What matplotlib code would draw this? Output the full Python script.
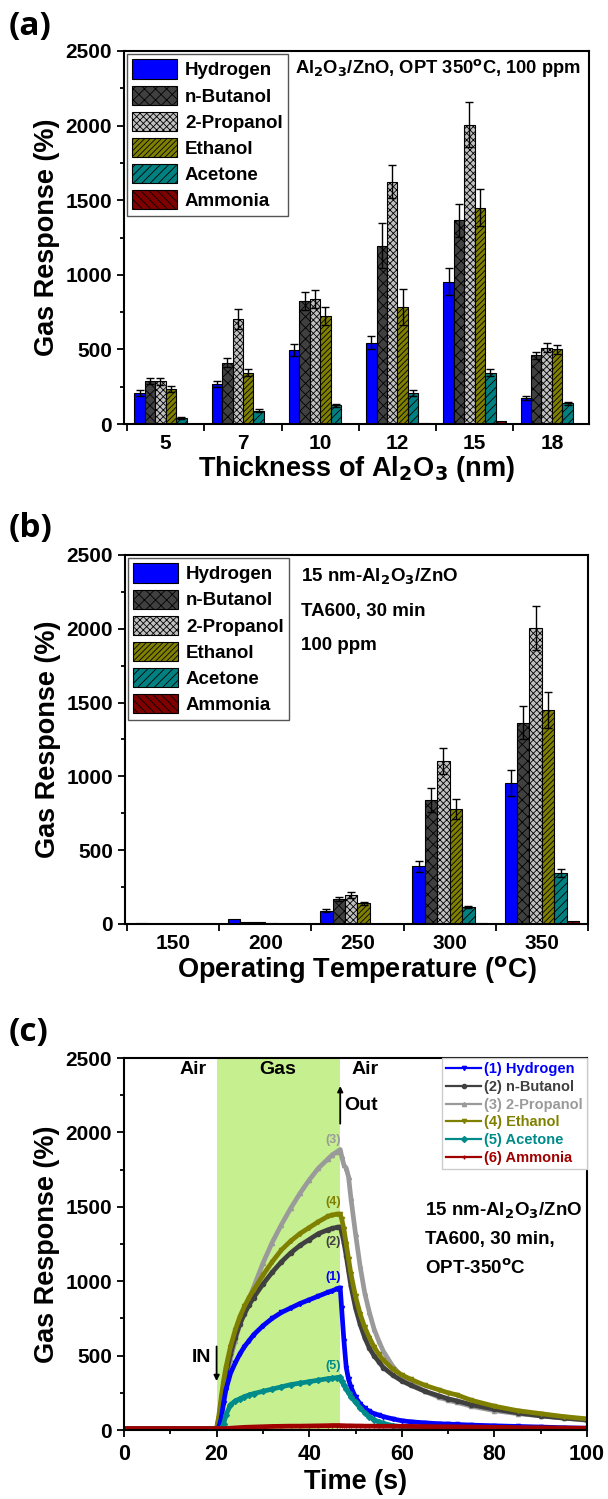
import numpy as np
import matplotlib.pyplot as plt
from matplotlib.ticker import MultipleLocator, FixedLocator
from matplotlib import font_manager

plt.rcParams['font.family'] = ['Liberation Sans', 'DejaVu Sans']
plt.rcParams['font.weight'] = 'bold'
plt.rcParams['hatch.linewidth'] = 0.6

names = sorted({f.name for f in font_manager.fontManager.ttflist})
print(names)

# ---- data ----
gases = ['Hydrogen', 'n-Butanol', '2-Propanol', 'Ethanol', 'Acetone', 'Ammonia']
colors = ['#0000ff', '#404040', '#c0c0c0', '#808000', '#008080', '#800000']
hatches = [None, 'xxx', 'xxxxx', '//////', '////', '\\\\\\\\']

thickness = ['5', '7', '10', '12', '15', '18']
resp_a = [
    [210, 270, 495, 545, 955, 175],
    [285, 410, 825, 1195, 1365, 460],
    [285, 705, 840, 1625, 2005, 510],
    [235, 345, 725, 785, 1450, 500],
    [40, 90, 125, 205, 345, 140],
    [3, 0, 0, 8, 20, 0],
]
err_a = [
    [20, 20, 40, 45, 90, 15],
    [20, 30, 60, 150, 110, 25],
    [25, 65, 60, 110, 150, 30],
    [20, 25, 60, 120, 125, 30],
    [5, 8, 12, 20, 25, 10],
    [0, 0, 0, 0, 0, 0],
]

temps = ['150', '200', '250', '300', '350']
resp_b = [
    [8, 32, 90, 390, 955],
    [0, 12, 170, 840, 1365],
    [0, 12, 195, 1105, 2005],
    [0, 10, 140, 780, 1450],
    [0, 0, 3, 115, 345],
    [0, 0, 0, 8, 20],
]
err_b = [
    [0, 0, 10, 35, 90],
    [0, 0, 15, 80, 115],
    [0, 0, 20, 90, 150],
    [0, 0, 12, 70, 125],
    [0, 0, 0, 8, 28],
    [0, 0, 0, 0, 0],
]

t_c = [0, 5, 10, 15, 19.5, 20, 20.5, 21, 21.5, 22, 23, 24, 25, 26, 27, 28, 30, 32, 34, 36, 38,
       40, 42, 44, 45, 46, 46.7, 47, 47.5, 48, 48.5, 49, 50, 51, 52, 53, 54, 55, 56, 58, 60,
       62, 65, 68, 70, 72, 75, 80, 85, 90, 95, 100]
hydrogen_c = [10, 10, 10, 10, 10, 10, 20, 80, 180, 270, 380, 450, 510, 560, 600, 640, 700, 750,
              790, 820, 850, 875, 900, 925, 935, 950, 955, 820, 600, 420, 340, 290, 220, 175,
              145, 125, 110, 100, 90, 75, 62, 55, 48, 42, 40, 37, 33, 28, 24, 20, 15, 12]
butanol_c = [10, 10, 10, 10, 10, 10, 80, 180, 280, 370, 510, 620, 710, 780, 840, 890, 980, 1060,
             1130, 1190, 1240, 1280, 1320, 1345, 1355, 1362, 1365, 1330, 1260, 1170, 1070, 970,
             820, 710, 620, 550, 500, 460, 420, 370, 330, 300, 260, 230, 210, 195, 170, 140,
             115, 95, 80, 68]
propanol_c = [10, 10, 10, 10, 10, 10, 60, 150, 250, 330, 480, 600, 710, 800, 880, 960, 1120,
              1260, 1380, 1490, 1590, 1680, 1760, 1820, 1850, 1870, 1885, 1840, 1780, 1760,
              1700, 1560, 1320, 1100, 920, 790, 680, 600, 530, 430, 360, 310, 260, 220, 200,
              185, 160, 130, 110, 95, 80, 65]
ethanol_c = [10, 10, 10, 10, 10, 10, 100, 220, 330, 420, 560, 670, 760, 830, 890, 940, 1040,
             1130, 1210, 1270, 1320, 1360, 1400, 1435, 1445, 1450, 1450, 1420, 1350, 1250, 1150,
             1050, 900, 780, 690, 620, 560, 510, 470, 410, 370, 340, 300, 270, 250, 235, 200,
             160, 130, 110, 90, 75]
acetone_c = [10, 10, 10, 10, 10, 10, 10, 10, 40, 100, 170, 195, 210, 225, 235, 245, 260, 275,
             290, 305, 315, 325, 335, 345, 348, 352, 355, 330, 300, 275, 250, 225, 185, 150,
             115, 90, 70, 55, 45, 30, 22, 18, 14, 12, 11, 10, 10, 10, 10, 10, 10, 10]
ammonia_c = [10, 10, 10, 10, 10, 10, 10, 10, 10, 10, 12, 14, 16, 18, 19, 20, 22, 24, 25, 26, 26,
             27, 28, 29, 30, 30, 30, 29, 29, 28, 28, 28, 27, 27, 26, 26, 26, 25, 25, 25, 25, 24,
             23, 22, 22, 21, 20, 18, 16, 15, 13, 12]
series_c = [hydrogen_c, butanol_c, propanol_c, ethanol_c, acetone_c, ammonia_c]
labels_c = ['(1) Hydrogen', '(2) n-Butanol', '(3) 2-Propanol', '(4) Ethanol', '(5) Acetone', '(6) Ammonia']
colors_c = ['#0000ff', '#404040', '#9a9a9a', '#808000', '#008b8b', '#a00000']
markers_c = ['v', 'o', '^', 'v', 'D', '+']

fig = plt.figure(figsize=(6.08, 14.99), dpi=100)
W, H = 608.0, 1499.0
TICK = 15
LAB = 19.5


def box(l, t, r, b):
    return [l / W, 1 - b / H, (r - l) / W, (b - t) / H]


def style_axes(ax):
    for s in ax.spines.values():
        s.set_linewidth(1.5)
    ax.tick_params(axis='both', which='both', direction='out', width=1.3, labelsize=TICK)
    ax.tick_params(which='major', length=5)
    ax.tick_params(which='minor', length=3)
    for lab in ax.get_xticklabels() + ax.get_yticklabels():
        lab.set_fontweight('bold')


def bar_panel(ax, cats, resp, err, xlabel, xlim):
    n = len(gases)
    w = 0.135
    x = np.arange(len(cats))
    for i in range(n):
        pos = x + (i - (n - 1) / 2) * w
        ax.bar(pos, resp[i], w, color=colors[i], edgecolor='black', linewidth=0.8,
               hatch=hatches[i], label=gases[i], zorder=2)
        e = np.array(err[i])
        m = e > 0
        if m.any():
            ax.errorbar(pos[m], np.array(resp[i])[m], yerr=e[m], fmt='none',
                        ecolor='black', elinewidth=1.0, capsize=3, capthick=1.0, zorder=3)
    ax.set_xlim(*xlim)
    ax.set_ylim(0, 2500)
    ax.xaxis.set_major_locator(FixedLocator(x))
    ax.set_xticklabels(cats)
    ax.yaxis.set_major_locator(MultipleLocator(500))
    ax.yaxis.set_minor_locator(MultipleLocator(250))
    ax.xaxis.set_minor_locator(FixedLocator(np.arange(-0.5, len(cats), 1.0)))
    style_axes(ax)
    ax.tick_params(axis='x', which='major', length=0, pad=7)
    ax.tick_params(axis='x', which='minor', length=5)
    ax.set_ylabel('Gas Response (%)', fontsize=LAB, fontweight='bold', labelpad=4)
    ax.set_xlabel(xlabel, fontsize=LAB, fontweight='bold', labelpad=1)
    leg = ax.legend(loc='upper left', bbox_to_anchor=(0.0, 1.0), fontsize=13.5,
                    handlelength=2.4, handleheight=1.2, labelspacing=0.33,
                    handletextpad=0.4, borderaxespad=0.15, borderpad=0.3, fancybox=False,
                    edgecolor='#555555', framealpha=1)
    leg.get_frame().set_linewidth(1.0)
    for t in leg.get_texts():
        t.set_fontweight('bold')


# (a)
ax1 = fig.add_axes(box(124, 51, 589, 424))
bar_panel(ax1, thickness, resp_a, err_a, 'Thickness of Al$_\\mathbf{2}$O$_\\mathbf{3}$ (nm)', (-0.54, 5.48))
ax1.text(0.367, 0.955, 'Al$_\\mathbf{2}$O$_\\mathbf{3}$/ZnO, OPT 350$^\\mathbf{o}$C, 100 ppm',
         transform=ax1.transAxes, fontsize=13.2, fontweight='bold', va='center', ha='left')

# (b)
ax2 = fig.add_axes(box(125, 555, 588, 924))
bar_panel(ax2, temps, resp_b, err_b, 'Operating Temperature ($^\\mathbf{o}$C)', (-0.52, 4.5))
for k, s in enumerate(['15 nm-Al$_\\mathbf{2}$O$_\\mathbf{3}$/ZnO', 'TA600, 30 min', '100 ppm']):
    ax2.text(0.38, 0.94 - k * 0.092, s, transform=ax2.transAxes, fontsize=13.5,
             fontweight='bold', va='center', ha='left')

# (c)
ax3 = fig.add_axes(box(124, 1058, 587, 1430))
ax3.axvspan(20, 46.7, color='#c6ef8f', zorder=0, lw=0)
order = [2, 1, 3, 0, 4, 5]
handles = {}
for i in order:
    ln, = ax3.plot(t_c, series_c[i], color=colors_c[i], lw=3.4, marker=markers_c[i],
                   markersize=3, zorder=2, label=labels_c[i])
    handles[i] = ln
ax3.set_xlim(0, 100)
ax3.set_ylim(0, 2500)
ax3.xaxis.set_major_locator(MultipleLocator(20))
ax3.xaxis.set_minor_locator(MultipleLocator(10))
ax3.yaxis.set_major_locator(MultipleLocator(500))
ax3.yaxis.set_minor_locator(MultipleLocator(250))
style_axes(ax3)
ax3.tick_params(axis='x', labelsize=15.5, pad=5)
ax3.set_ylabel('Gas Response (%)', fontsize=LAB, fontweight='bold', labelpad=4)
ax3.set_xlabel('Time (s)', fontsize=LAB, fontweight='bold', labelpad=3)

leg = ax3.legend([handles[i] for i in range(6)], labels_c, loc='upper right',
                 fontsize=10.5, handlelength=2.4, labelspacing=0.25, handletextpad=0.2,
                 borderaxespad=0.0, fancybox=False, edgecolor='#cccccc', framealpha=1,
                 borderpad=0.3)
for t, c in zip(leg.get_texts(), colors_c):
    t.set_color(c)
    t.set_fontweight('bold')
for lh in leg.get_lines():
    lh.set_linewidth(1.6)

for xx, s in [(15, 'Air'), (33.3, 'Gas'), (52, 'Air')]:
    ax3.text(xx, 2420, s, ha='center', va='center', fontsize=14, fontweight='bold')
ax3.annotate('', xy=(46.7, 2330), xytext=(46.7, 2040),
             arrowprops=dict(arrowstyle='-|>', color='black', lw=1.3, mutation_scale=8))
ax3.text(47.6, 2180, 'Out', ha='left', va='center', fontsize=14, fontweight='bold')
ax3.annotate('', xy=(20, 310), xytext=(20, 580),
             arrowprops=dict(arrowstyle='-|>', color='black', lw=1.3, mutation_scale=8))
ax3.text(18.9, 490, 'IN', ha='right', va='center', fontsize=14, fontweight='bold')

for s, y, c in [('(3)', 1950, colors_c[2]), ('(4)', 1530, colors_c[3]), ('(2)', 1265, colors_c[1]),
                ('(1)', 1030, colors_c[0]), ('(5)', 430, colors_c[4])]:
    ax3.text(45.2, y, s, ha='center', va='center', fontsize=9, fontweight='bold', color=c)

for k, s in enumerate(['15 nm-Al$_\\mathbf{2}$O$_\\mathbf{3}$/ZnO', 'TA600, 30 min,',
                       'OPT-350$^\\mathbf{o}$C']):
    ax3.text(65.0, 1470 - k * 190, s, ha='left', va='center', fontsize=13.5, fontweight='bold')

# panel labels
for y, s in [(26, '(a)'), (528, '(b)'), (1033, '(c)')]:
    fig.text(9 / W, 1 - y / H, s, fontsize=24, fontweight='bold', family='Open Sans',
             va='center', ha='left')

fig.savefig('out.png', dpi=100)
